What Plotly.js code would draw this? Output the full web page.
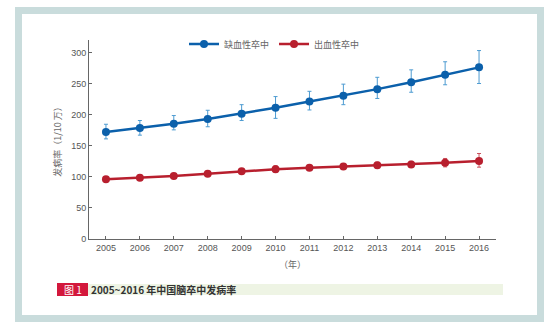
<!DOCTYPE html>
<html><head><meta charset="utf-8">
<script src="https://cdn.plot.ly/plotly-3.0.1.min.js"></script>
<style>html,body{margin:0;padding:0;background:#fff;}#chart{width:558px;height:333px;}</style>
</head><body><div id="chart"></div>
<script>
var years = [2005,2006,2007,2008,2009,2010,2011,2012,2013,2014,2015,2016];
var ischemic = [172,178.5,185.5,193,201.5,211,221,230.5,241,252,264,276];
var ischemicPlus = [12.5,12,13,14,14.5,18,16.5,18.5,19,20,21,27];
var ischemicMinus = [11,11.5,10,12.5,11,17,13.5,14.5,15,16,16,26];
var hemorrhagic = [96,98.5,101.5,105,109,112,114.5,116.5,118.5,120,122.5,125.5];
var hemorrhagicPlus = [3,3,3,4,4,6,4,4,5,5,7,12];
var hemorrhagicMinus = [3,3,3,4,4,5,4,4,5,5,6.5,10];
var seriesNames = ['缺血性卒中','出血性卒中'];
var yTicks = [0,50,100,150,200,250,300];

// plot area in pixels
var L=89, R=496, T=40, B=239, W=558, H=333;
function px(x){return (x-L)/(R-L);}
function py(y){return (B-y)/(B-T);}

var traces = [
 {x:years,y:ischemic,name:seriesNames[0],type:'scatter',mode:'lines+markers',
  line:{color:'#0b60ab',width:2.5},marker:{color:'#0b60ab',size:8},
  error_y:{type:'data',symmetric:false,array:ischemicPlus,arrayminus:ischemicMinus,color:'#4d9bd1',thickness:1,width:2}},
 {x:years,y:hemorrhagic,name:seriesNames[1],type:'scatter',mode:'lines+markers',
  line:{color:'#b81f2e',width:2.5},marker:{color:'#b81f2e',size:8},
  error_y:{type:'data',symmetric:false,array:hemorrhagicPlus,arrayminus:hemorrhagicMinus,color:'#c9505c',thickness:1,width:2}}
];

var layout = {
 width:W,height:H,
 margin:{l:L,r:W-R,t:T,b:H-B,pad:0},
 paper_bgcolor:'#ffffff',plot_bgcolor:'rgba(0,0,0,0)',
 font:{family:'Liberation Sans, Arial, sans-serif',size:9,color:'#555'},
 showlegend:true,
 legend:{orientation:'h',x:px(184),xanchor:'left',y:py(44),yanchor:'middle',
   font:{family:'Noto Sans CJK SC, sans-serif',size:9,color:'#666'},itemwidth:30,bgcolor:'rgba(0,0,0,0)'},
 xaxis:{range:[2004.5,2016.5],tickvals:years,ticktext:years.map(String),showgrid:false,zeroline:false,
   showline:true,linecolor:'#666',linewidth:1,ticks:'inside',ticklen:3,tickcolor:'#666',
   tickfont:{size:9,color:'#555'},
   title:{text:'（年）',font:{family:'Noto Sans CJK SC, sans-serif',size:9,color:'#666'},standoff:9}},
 yaxis:{range:[0,320],tickvals:yTicks,showgrid:false,zeroline:false,
   showline:true,linecolor:'#666',linewidth:1,ticks:'inside',ticklen:3,tickcolor:'#666',
   tickfont:{size:9,color:'#555'},
   title:{text:'发病率（1/10 万）',font:{family:'Noto Sans CJK SC, sans-serif',size:9,color:'#666'},standoff:8}},
 shapes:[
  {type:'rect',xref:'paper',yref:'paper',x0:px(15),x1:px(544),y0:py(322),y1:py(7),fillcolor:'#c9dcdc',line:{width:0},layer:'below'},
  {type:'rect',xref:'paper',yref:'paper',x0:px(22),x1:px(537),y0:py(315),y1:py(14),fillcolor:'#ffffff',line:{width:0},layer:'below'},
  {type:'rect',xref:'paper',yref:'paper',x0:px(88),x1:px(503),y0:py(295),y1:py(284),fillcolor:'#eef4e4',line:{width:0},layer:'below'},
  {type:'rect',xref:'paper',yref:'paper',x0:px(57),x1:px(88),y0:py(296),y1:py(283),fillcolor:'#d3183c',line:{width:0},layer:'below'}
 ],
 annotations:[
  {xref:'paper',yref:'paper',x:px(72.5),y:py(289.5),xanchor:'center',yanchor:'middle',showarrow:false,
   text:'图 1',font:{family:'Noto Sans CJK SC, sans-serif',size:10,color:'#ffffff'}},
  {xref:'paper',yref:'paper',x:px(89),y:py(289.5),xanchor:'left',yanchor:'middle',showarrow:false,
   text:'<b>2005~2016 年中国脑卒中发病率</b>',font:{family:'Noto Sans CJK SC, sans-serif',size:10,color:'#333'}}
 ]
};
Plotly.newPlot('chart',traces,layout,{displayModeBar:false,staticPlot:true});
</script></body></html>
